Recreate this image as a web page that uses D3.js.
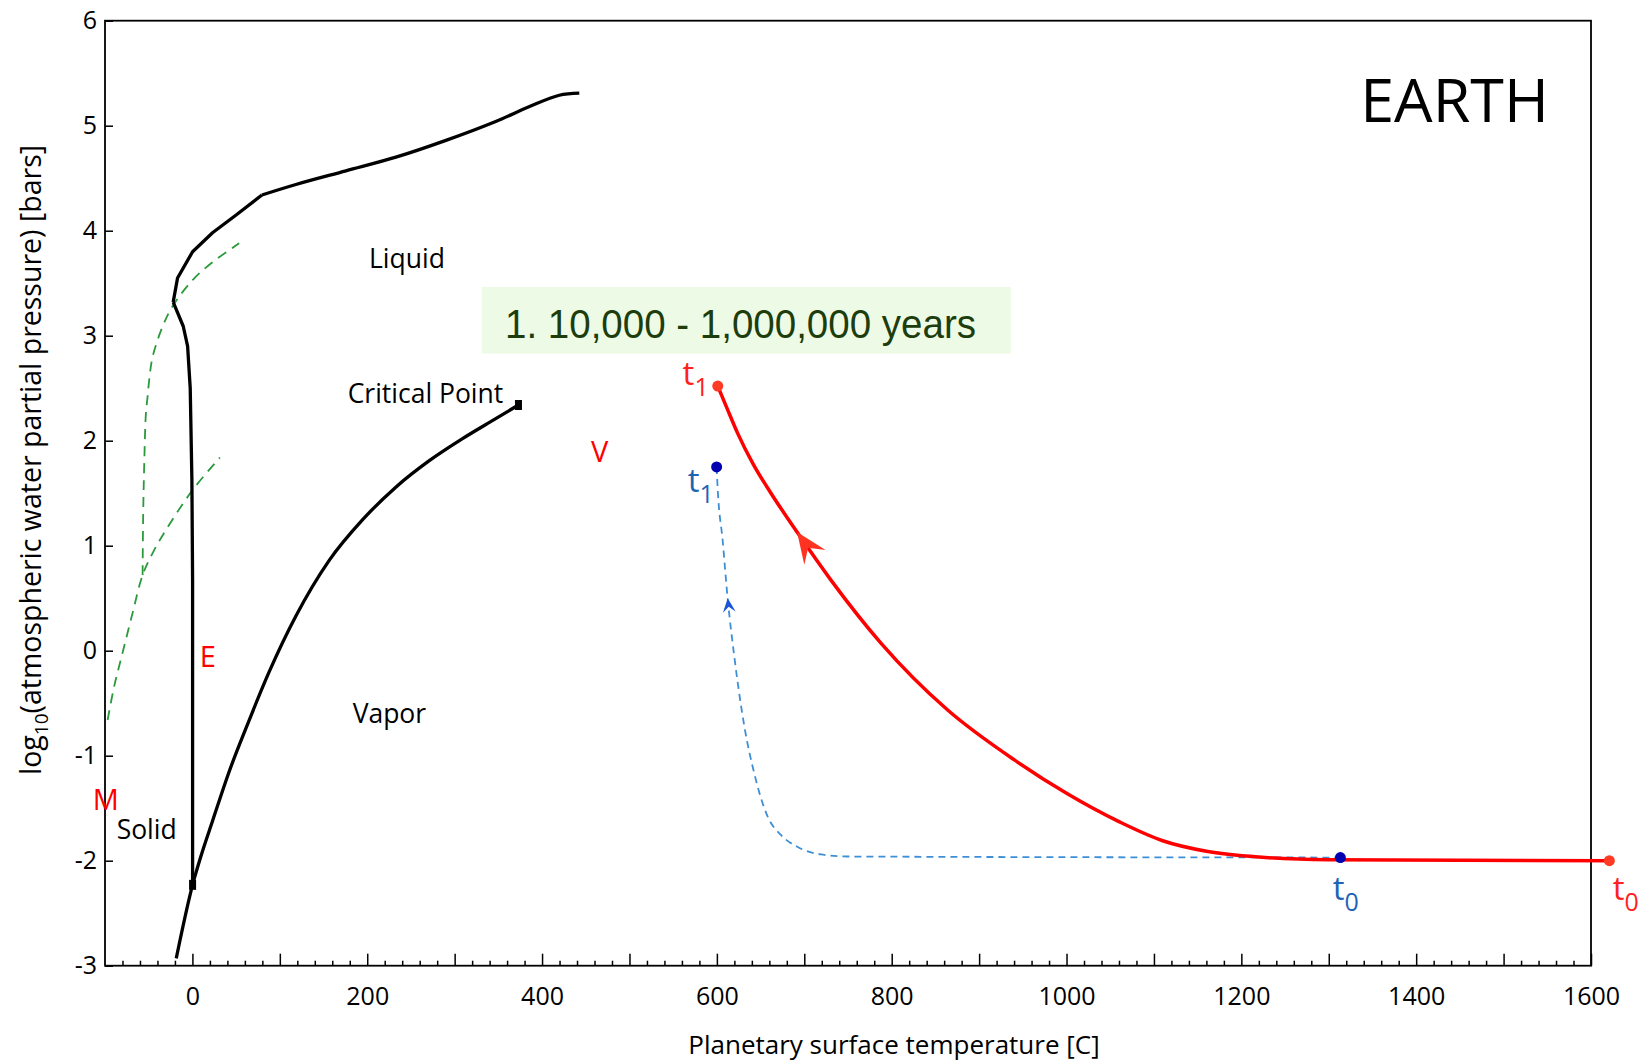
<!DOCTYPE html>
<html>
<head>
<meta charset="utf-8">
<script src="https://cdn.jsdelivr.net/npm/d3@7"></script>
<style>
  body { margin: 0; background: #fff; }
  text { font-family: "Open Sans", "DejaVu Sans", sans-serif; }
</style>
</head>
<body>
<div id="chart"></div>
<script>
// Data (temperature in C, log10 pressure in bars)
const xTickLabels = [0, 200, 400, 600, 800, 1000, 1200, 1400, 1600];
const yTickLabels = [-3, -2, -1, 0, 1, 2, 3, 4, 5, 6];

// solid / liquid boundary, from the top kink down to the triple point
const meltLine = [[-22, 3.32], [-10.5, 3.09], [-5.5, 2.9], [-2.5, 2.5], [-0.6, 1.63], [0.2, 0.67], [0.2, -2.23]];
// upper liquid boundary (kinked lower part, smooth upper part)
const liquidTopLow = [[-22, 3.32], [-17, 3.55], [0.2, 3.8], [23, 3.98], [50, 4.15], [79.5, 4.34]];
const liquidTopHigh = [[79.5, 4.34], [118.4, 4.44], [175.6, 4.57], [232.8, 4.70], [290, 4.86], [347, 5.04],
    [385, 5.18], [419.7, 5.29], [442.6, 5.31]];
// vapor pressure curve up to the critical point
const vaporLine = [[-18.5, -2.93], [0.2, -2.23], [10, -1.95], [23.1, -1.62], [42.1, -1.15], [61.2, -0.74],
    [87.9, -0.2], [118.4, 0.33], [156.5, 0.86], [195, 1.25], [233, 1.56], [271, 1.81], [309, 2.02],
    [347, 2.21], [373, 2.34]];
const triplePoint = [0.2, -2.23];
const criticalPoint = [373, 2.34];

// green dashed curves
const greenLow = [[-97, -0.66], [-89.5, -0.34], [-79.9, -0.02], [-68.4, 0.36], [-57, 0.72], [-45.5, 0.93],
    [-30.3, 1.15], [0.2, 1.53], [31.5, 1.84]];
const greenHigh = [[-57, 0.72], [-56.3, 1.31], [-55.1, 1.78], [-53.2, 2.26], [-51.3, 2.42], [-49.4, 2.58],
    [-45.5, 2.8], [-34, 3.09], [-22.7, 3.28], [0.2, 3.53], [23, 3.70], [53.5, 3.88]];

// red evolution path, t1 -> t0 (increasing temperature)
const redPath = [[601, 2.52], [612, 2.30], [623.8, 2.07], [642, 1.77], [661.9, 1.50], [692.5, 1.12],
    [730.7, 0.67], [787.9, 0.07], [864, -0.565], [940.3, -1.04], [1000, -1.358], [1060, -1.628],
    [1110, -1.81], [1160, -1.91], [1220, -1.965], [1300, -1.99], [1621, -2.0]];
// blue dashed evolution path, t1 -> t0
const bluePath = [[599.7, 1.75], [601, 1.53], [606.6, 1.05], [612.4, 0.49], [620, -0.06], [631.4, -0.72],
    [642.8, -1.17], [658.1, -1.58], [673.3, -1.755], [692.5, -1.87], [719, -1.94], [749.7, -1.96],
    [1313.3, -1.97]];
const redArrow = [[730.7, 0.67], [691.7, 1.13]];
const blueArrow = [[620, -0.06], [612.4, 0.50]];

// Layout
const margin = {top: 20.7, right: 55, bottom: 97.3, left: 105};
const width = 1646 - margin.left - margin.right;
const height = 1063 - margin.top - margin.bottom;

const svg = d3.select("#chart")
    .append("svg")
    .attr("width", 1646)
    .attr("height", 1063);

const g = svg.append("g")
    .attr("transform", `translate(${margin.left},${margin.top})`);

const x = d3.scaleLinear().domain([-100, 1600]).range([0, width]);
const y = d3.scaleLinear().domain([-3, 6]).range([height, 0]);

// Axes (ticks point inward)
g.append("g")
    .attr("transform", `translate(0,${height})`)
    .call(d3.axisBottom(x).tickValues(d3.range(-80, 1600, 20).filter(v => v % 100 !== 0))
        .tickSize(-5).tickSizeOuter(0).tickFormat(""))
    .call(a => a.select(".domain").remove());

g.append("g")
    .attr("transform", `translate(0,${height})`)
    .call(d3.axisBottom(x).tickValues(d3.range(0, 1601, 100))
        .tickSize(-12).tickSizeOuter(0).tickPadding(22)
        .tickFormat(d => xTickLabels.includes(d) ? String(d) : ""))
    .call(a => a.select(".domain").remove());

g.append("g")
    .call(d3.axisLeft(y).tickValues(yTickLabels).tickSize(-8).tickSizeOuter(0).tickPadding(8)
        .tickFormat(d => String(d)))
    .call(a => a.select(".domain").remove());

g.selectAll(".tick line").attr("stroke", "#000").attr("stroke-width", 1.5);
g.selectAll(".tick text")
    .style("font-family", "'Open Sans', sans-serif")
    .style("font-size", "25px")
    .attr("fill", "#000");

// Frame
g.append("rect")
    .attr("width", width)
    .attr("height", height)
    .attr("fill", "none")
    .attr("stroke", "#000")
    .attr("stroke-width", 1.8);

// Axis titles
svg.append("text")
    .attr("x", 894)
    .attr("y", 1054)
    .attr("text-anchor", "middle")
    .style("font-size", "26px")
    .text("Planetary surface temperature [C]");

const yTitle = svg.append("text")
    .attr("transform", "translate(41,460) rotate(-90)")
    .attr("text-anchor", "middle")
    .style("font-size", "28.5px");
yTitle.append("tspan").text("log");
yTitle.append("tspan").attr("dy", 7).style("font-size", "19px").text("10");
yTitle.append("tspan").attr("dy", -7).text("(atmospheric water partial pressure) [bars]");

// Line generators
const line = d3.line().x(d => x(d[0])).y(d => y(d[1]));
const smooth = d3.line().x(d => x(d[0])).y(d => y(d[1])).curve(d3.curveCatmullRom.alpha(0.5));
const mono = d3.line().x(d => x(d[0])).y(d => y(d[1])).curve(d3.curveMonotoneX);

// Green dashed curves
[greenLow, greenHigh].forEach(data => {
    g.append("path")
        .attr("d", smooth(data))
        .attr("fill", "none")
        .attr("stroke", "#2a9a3c")
        .attr("stroke-width", 1.8)
        .attr("stroke-dasharray", "10,7");
});

// Phase boundaries
[[line, meltLine], [line, liquidTopLow], [smooth, liquidTopHigh], [mono, vaporLine]].forEach(([gen, data]) => {
    g.append("path")
        .attr("d", gen(data))
        .attr("fill", "none")
        .attr("stroke", "#000")
        .attr("stroke-width", 3.3)
        .attr("stroke-linejoin", "round");
});

[triplePoint, criticalPoint].forEach(p => {
    g.append("rect")
        .attr("x", x(p[0]) - 3.5)
        .attr("y", y(p[1]) - 5)
        .attr("width", 7)
        .attr("height", 10)
        .attr("fill", "#000");
});

// Region labels
const labels = [
    {t: "Liquid", p: [202, 3.645]},
    {t: "Critical Point", p: [177.6, 2.356]},
    {t: "Vapor", p: [183.3, -0.691]},
    {t: "Solid", p: [-86.7, -1.796]}
];
labels.forEach(l => {
    g.append("text")
        .attr("x", x(l.p[0]))
        .attr("y", y(l.p[1]))
        .style("font-size", "26.5px")
        .text(l.t);
});

[{t: "E", p: [8.5, -0.158]}, {t: "M", p: [-114, -1.52]}, {t: "V", p: [456, 1.797]}].forEach(l => {
    g.append("text")
        .attr("x", x(l.p[0]))
        .attr("y", y(l.p[1]))
        .attr("fill", "#ff0000")
        .style("font-size", "29px")
        .text(l.t);
});

g.append("text")
    .attr("x", x(1336))
    .attr("y", y(5.038))
    .style("font-size", "61px")
    .text("EARTH");

// Time span box
g.append("rect")
    .attr("x", x(331))
    .attr("y", y(3.464))
    .attr("width", x(936.4) - x(331))
    .attr("height", y(2.83) - y(3.464))
    .attr("fill", "#edfbe6");

g.append("text")
    .attr("x", x(357.6))
    .attr("y", y(2.98))
    .attr("fill", "#1d3d0c")
    .attr("textLength", 471)
    .attr("lengthAdjust", "spacingAndGlyphs")
    .style("font-family", "'Liberation Sans', Arial, sans-serif")
    .style("font-size", "40px")
    .text("1. 10,000 - 1,000,000 years");

// Evolution paths
g.append("path")
    .attr("d", mono(bluePath))
    .attr("fill", "none")
    .attr("stroke", "#3d8fd6")
    .attr("stroke-width", 1.8)
    .attr("stroke-dasharray", "7,5");

g.append("path")
    .attr("d", mono(redPath))
    .attr("fill", "none")
    .attr("stroke", "#ff0000")
    .attr("stroke-width", 3.5);

function arrowHead(pair, len, half, color) {
    const [a, b] = pair;
    const ang = Math.atan2(y(b[1]) - y(a[1]), x(b[0]) - x(a[0])) * 180 / Math.PI;
    g.append("path")
        .attr("d", `M0,0 L${-len},${-half} L${-len * 0.62},0 L${-len},${half} Z`)
        .attr("transform", `translate(${x(b[0])},${y(b[1])}) rotate(${ang})`)
        .attr("fill", color);
}
arrowHead(redArrow, 31, 13, "#ff3322");
arrowHead(blueArrow, 14, 6.4, "#1a56db");

// End points
[[redPath[0], "#ff3a25"], [redPath[redPath.length - 1], "#ff3a25"],
 [bluePath[0], "#0000b0"], [bluePath[bluePath.length - 1], "#0000b0"]].forEach(([p, c]) => {
    g.append("circle")
        .attr("cx", x(p[0]))
        .attr("cy", y(p[1]))
        .attr("r", 5.5)
        .attr("fill", c);
});

// t labels
function tLabel(p, sub, color) {
    const t = g.append("text")
        .attr("x", x(p[0]))
        .attr("y", y(p[1]))
        .attr("fill", color)
        .style("font-size", "33px");
    t.append("tspan").text("t");
    t.append("tspan").attr("dy", 11).style("font-size", "25px").text(sub);
}
tLabel([560.8, 2.53], "1", "#ff2020");
tLabel([1625, -2.37], "0", "#ff2020");
tLabel([566.6, 1.514], "1", "#1e64b4");
tLabel([1304.6, -2.37], "0", "#1e64b4");
</script>
</body>
</html>
